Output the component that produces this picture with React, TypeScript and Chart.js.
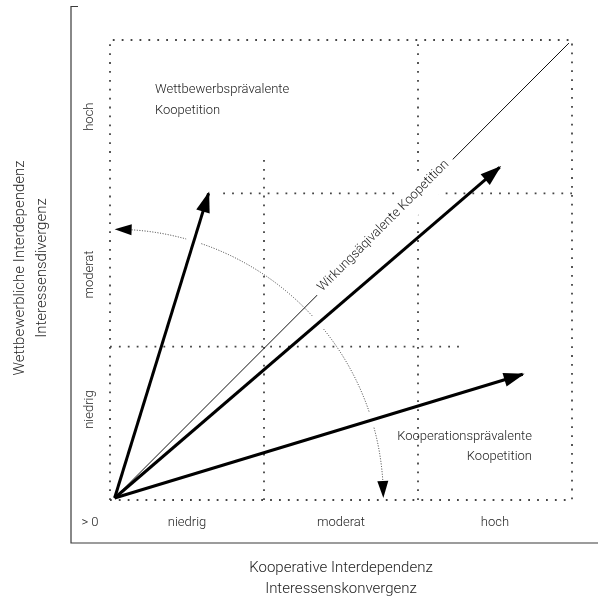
import { useEffect, useRef } from 'react';
import { Chart, registerables } from 'chart.js';

Chart.register(...registerables);

// ---------- data (diagram units: each level spans 1 unit, 0..3) ----------
const LEVELS = ['niedrig', 'moderat', 'hoch'];
const ZERO_LABEL = '> 0';
const X_TICK_VALUES = [0.5, 1.5, 2.5];
const Y_TICK_VALUES = [0.59, 1.47, 2.5];
const X_TITLE = ['Kooperative Interdependenz', 'Interessenskonvergenz'];
const Y_TITLE = ['Wettbewerbliche Interdependenz', 'Interessensdivergenz'];

const ORIGIN = { x: 0.03, y: 0.013 };
const TIP_COMPETITION = { x: 0.64, y: 2.0 };
const TIP_EQUIVALENT = { x: 2.53, y: 2.17 };
const TIP_COOPERATION = { x: 2.68, y: 0.82 };
const DIAGONAL_END = { x: 2.98, y: 2.98 };
const ARC_RADIUS = 1.745;

const GRID_OUTER = [
  { x: 0, y: 0 },
  { x: 0, y: 3 },
  { x: 3, y: 3 },
  { x: 3, y: 0 },
  { x: 0, y: 0 },
];
const GRID_V1 = [{ x: 1, y: 0 }, { x: 1, y: 2.22 }];
const GRID_V2 = [{ x: 2, y: 0 }, { x: 2, y: 3 }];
const GRID_H1 = [{ x: 0, y: 1 }, { x: 2.27, y: 1 }];
const GRID_H2 = [{ x: 0.735, y: 2 }, { x: 3, y: 2 }];

const LABEL_COMPETITION = ['Wettbewerbsprävalente', 'Koopetition'];
const LABEL_COOPERATION = ['Kooperationsprävalente', 'Koopetition'];
const LABEL_EQUIVALENT = 'Wirkungsäqivalente Koopetition';

// ---------- styles ----------
const FONT_FAMILY = 'Roboto, "Noto Sans", sans-serif';
const FONT_WEIGHT = '300';
const TEXT_COLOR = '#222';
const GRID_COLOR = '#444';
const GRID_DASH = [1.8, 7.1];

function gridDataset(data: any[]) {
  return {
    data,
    showLine: true,
    borderColor: GRID_COLOR,
    borderWidth: 1.8,
    borderDash: GRID_DASH,
    pointRadius: 0,
    fill: false,
    clip: false,
    order: 5,
  };
}

function arrowDataset(tip: any) {
  return {
    data: [ORIGIN, tip],
    showLine: true,
    borderColor: '#000',
    borderWidth: 3,
    pointRadius: 0,
    fill: false,
    clip: false,
    order: 1,
    arrowHead: true,
  };
}

function drawHead(ctx: CanvasRenderingContext2D, tipX: number, tipY: number, ux: number, uy: number, len: number, hw: number) {
  const bx = tipX - ux * len;
  const by = tipY - uy * len;
  const nx = -uy;
  const ny = ux;
  ctx.beginPath();
  ctx.moveTo(tipX, tipY);
  ctx.lineTo(bx + nx * hw, by + ny * hw);
  ctx.lineTo(bx - nx * hw, by - ny * hw);
  ctx.closePath();
  ctx.fill();
}

const diagramPlugin = {
  id: 'diagram',
  afterDatasetsDraw(chart: any) {
    const { ctx, chartArea } = chart;
    const xs = chart.scales.x;
    const ys = chart.scales.y;
    const px = (v: number) => xs.getPixelForValue(v);
    const py = (v: number) => ys.getPixelForValue(v);

    // ----- frame (axes) -----
    ctx.save();
    ctx.strokeStyle = '#3a3a3a';
    ctx.lineWidth = 1.2;
    const fl = chartArea.left - 39;
    const fb = chartArea.bottom + 43;
    ctx.beginPath();
    ctx.moveTo(fl + 7, 6.5);
    ctx.lineTo(fl, 6.5);
    ctx.lineTo(fl, fb);
    ctx.lineTo(chartArea.right + 26, fb);
    ctx.stroke();
    ctx.restore();

    // ----- label on the diagonal with white backing -----
    ctx.save();
    const t = 0.595;
    const lx = ORIGIN.x + (DIAGONAL_END.x - ORIGIN.x) * t;
    const ly = ORIGIN.y + (DIAGONAL_END.y - ORIGIN.y) * t;
    const ang = Math.atan2(py(DIAGONAL_END.y) - py(ORIGIN.y), px(DIAGONAL_END.x) - px(ORIGIN.x));
    ctx.translate(px(lx), py(ly));
    ctx.rotate(ang);
    ctx.font = `${FONT_WEIGHT} 13px ${FONT_FAMILY}`;
    const w = ctx.measureText(LABEL_EQUIVALENT).width;
    ctx.fillStyle = '#fff';
    ctx.fillRect(-w / 2 - 6, -15, w + 12, 30);
    ctx.fillStyle = TEXT_COLOR;
    ctx.textAlign = 'center';
    ctx.textBaseline = 'middle';
    ctx.fillText(LABEL_EQUIVALENT, 0, -2);
    ctx.restore();

    // ----- dotted arc with arrowheads -----
    const cx = px(ORIGIN.x);
    const cy = py(ORIGIN.y);
    const r = px(ORIGIN.x + ARC_RADIUS) - cx;
    const headLen = 17;
    const headHw = 5.5;
    const a0 = -Math.PI / 2 + headLen / r;
    const a1 = -headLen / r;
    const gapHalf = 8 / r;
    const gaps: number[] = [];
    chart.data.datasets.forEach((ds: any, i: number) => {
      if (!ds.arrowHead) return;
      const meta = chart.getDatasetMeta(i);
      const p = meta.data[meta.data.length - 1];
      gaps.push(Math.atan2(p.y - cy, p.x - cx));
    });
    gaps.sort((a, b) => a - b);
    ctx.save();
    ctx.strokeStyle = '#333';
    ctx.lineWidth = 1;
    ctx.setLineDash([1, 1.6]);
    let start = a0;
    for (const g of gaps) {
      if (g - gapHalf > start) {
        ctx.beginPath();
        ctx.arc(cx, cy, r, start, g - gapHalf);
        ctx.stroke();
      }
      start = Math.max(start, g + gapHalf);
    }
    if (start < a1) {
      ctx.beginPath();
      ctx.arc(cx, cy, r, start, a1);
      ctx.stroke();
    }
    ctx.setLineDash([]);
    ctx.fillStyle = '#000';
    // top head (pointing left)
    {
      const tx = cx + r * Math.cos(-Math.PI / 2);
      const ty = cy + r * Math.sin(-Math.PI / 2);
      const bx = cx + r * Math.cos(a0);
      const by = cy + r * Math.sin(a0);
      const L = Math.hypot(tx - bx, ty - by);
      drawHead(ctx, tx, ty, (tx - bx) / L, (ty - by) / L, headLen, headHw);
    }
    // bottom head (pointing down)
    {
      const tx = cx + r;
      const ty = cy;
      const bx = cx + r * Math.cos(a1);
      const by = cy + r * Math.sin(a1);
      const L = Math.hypot(tx - bx, ty - by);
      drawHead(ctx, tx, ty, (tx - bx) / L, (ty - by) / L, headLen, headHw);
    }
    ctx.restore();

    // ----- arrowheads of the thick arrows -----
    ctx.save();
    ctx.fillStyle = '#000';
    chart.data.datasets.forEach((ds: any, i: number) => {
      if (!ds.arrowHead) return;
      const meta = chart.getDatasetMeta(i);
      const a = meta.data[meta.data.length - 2];
      const b = meta.data[meta.data.length - 1];
      const dx = b.x - a.x;
      const dy = b.y - a.y;
      const L = Math.hypot(dx, dy);
      const ux = dx / L;
      const uy = dy / L;
      drawHead(ctx, b.x + ux * 2, b.y + uy * 2, ux, uy, 21, 7);
    });
    ctx.restore();

    // ----- texts -----
    ctx.save();
    ctx.fillStyle = TEXT_COLOR;
    ctx.font = `${FONT_WEIGHT} 13px ${FONT_FAMILY}`;
    ctx.textBaseline = 'middle';
    ctx.textAlign = 'center';
    const tickY = chartArea.bottom + 23;
    ctx.fillText(ZERO_LABEL, chartArea.left - 20, tickY);
    X_TICK_VALUES.forEach((v, i) => ctx.fillText(LEVELS[i], px(v), tickY));
    Y_TICK_VALUES.forEach((v, i) => {
      ctx.save();
      ctx.translate(chartArea.left - 20, py(v));
      ctx.rotate(-Math.PI / 2);
      ctx.fillText(LEVELS[i], 0, 0);
      ctx.restore();
    });

    // region labels
    ctx.textAlign = 'left';
    LABEL_COMPETITION.forEach((s, i) => ctx.fillText(s, chartArea.left + 45, chartArea.top + 50 + i * 21));
    ctx.textAlign = 'right';
    LABEL_COOPERATION.forEach((s, i) => ctx.fillText(s, chartArea.right - 40, chartArea.bottom - 63 + i * 20));

    // axis titles
    ctx.font = `${FONT_WEIGHT} 15px ${FONT_FAMILY}`;
    ctx.textAlign = 'center';
    const midX = (chartArea.left + chartArea.right) / 2;
    X_TITLE.forEach((s, i) => ctx.fillText(s, midX, chartArea.bottom + 68 + i * 21));
    const midY = (chartArea.top + chartArea.bottom) / 2 - 2;
    Y_TITLE.forEach((s, i) => {
      ctx.save();
      ctx.translate(20 + i * 22, midY);
      ctx.rotate(-Math.PI / 2);
      ctx.fillText(s, 0, 0);
      ctx.restore();
    });
    ctx.restore();
  },
};

export default function App() {
  const ref = useRef<HTMLCanvasElement>(null);
  useEffect(() => {
    const canvas = ref.current;
    if (!canvas) return;
    const chart = new Chart(canvas, {
      type: 'scatter',
      data: {
        datasets: [
          gridDataset(GRID_OUTER),
          gridDataset(GRID_V1),
          gridDataset(GRID_V2),
          gridDataset(GRID_H1),
          gridDataset(GRID_H2),
          {
            data: [ORIGIN, DIAGONAL_END],
            showLine: true,
            borderColor: '#111',
            borderWidth: 1,
            pointRadius: 0,
            fill: false,
            clip: false,
            order: 4,
          },
          arrowDataset(TIP_COMPETITION),
          arrowDataset(TIP_EQUIVALENT),
          arrowDataset(TIP_COOPERATION),
        ] as any,
      },
      options: {
        responsive: false,
        maintainAspectRatio: false,
        animation: false,
        events: [],
        layout: { padding: { left: 110, right: 31, top: 40, bottom: 107 } },
        scales: {
          x: { type: 'linear', min: 0, max: 3, display: false },
          y: { type: 'linear', min: 0, max: 3, display: false },
        },
        plugins: {
          legend: { display: false },
          tooltip: { enabled: false },
        },
      },
      plugins: [diagramPlugin],
    });
    return () => chart.destroy();
  }, []);
  return (
    <div style={{ position: 'fixed', left: 0, top: 0, width: 603, height: 607, background: '#fff' }}>
      <canvas ref={ref} width={603} height={607} style={{ display: 'block' }} />
    </div>
  );
}
